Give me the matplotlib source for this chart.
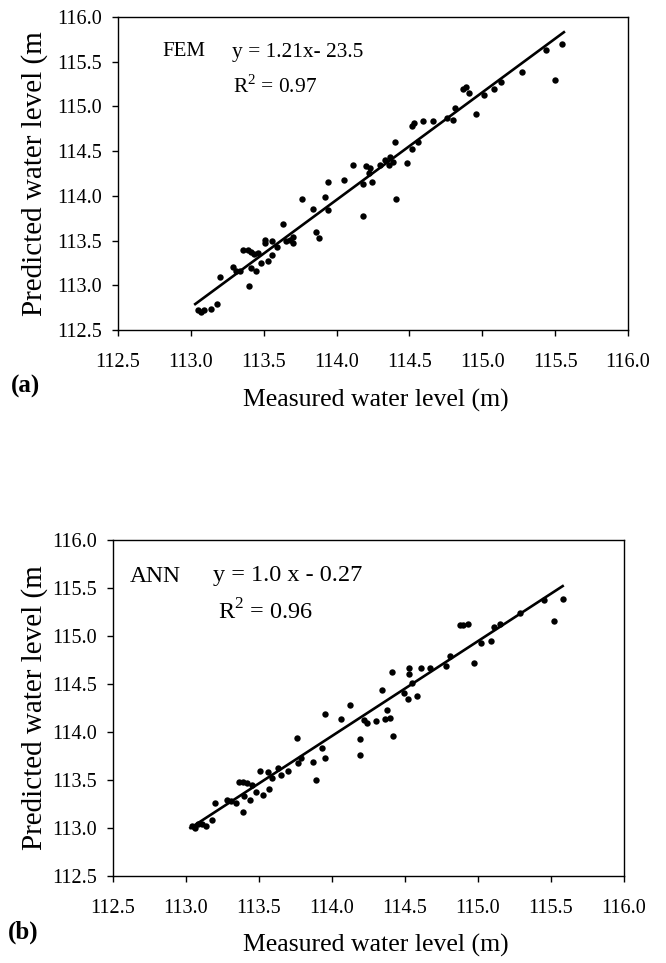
import matplotlib
matplotlib.use("Agg")
import matplotlib.pyplot as plt

plt.rcParams['font.family'] = ['Liberation Serif', 'DejaVu Serif']
plt.rcParams['mathtext.fontset'] = 'custom'
plt.rcParams['mathtext.rm'] = 'Liberation Serif'

# ---- Panel (a): FEM ----
fem_measured = [113.05, 113.07, 113.09, 113.14, 113.18, 113.20, 113.29, 113.31, 113.34, 113.36,
                113.39, 113.41, 113.43, 113.46, 113.40, 113.41, 113.45, 113.48, 113.53, 113.51,
                113.56, 113.56, 113.51, 113.59, 113.63, 113.65, 113.68, 113.70, 113.70, 113.76,
                113.84, 113.86, 113.88, 113.92, 113.94, 113.94, 114.05, 114.11, 114.18, 114.18,
                114.20, 114.23, 114.24, 114.22, 114.30, 114.33, 114.36, 114.37, 114.39, 114.40,
                114.41, 114.48, 114.52, 114.52, 114.53, 114.56, 114.59, 114.66, 114.76, 114.80,
                114.81, 114.87, 114.89, 114.91, 114.96, 115.01, 115.08, 115.13, 115.27, 115.44,
                115.50, 115.55]
fem_predicted = [112.72, 112.70, 112.72, 112.73, 112.79, 113.09, 113.20, 113.16, 113.16, 113.40,
                 113.39, 113.37, 113.35, 113.36, 112.99, 113.19, 113.16, 113.25, 113.27, 113.51,
                 113.49, 113.34, 113.47, 113.43, 113.69, 113.49, 113.51, 113.47, 113.54, 113.96,
                 113.85, 113.60, 113.53, 113.99, 114.16, 113.84, 114.18, 114.35, 113.78, 114.13,
                 114.33, 114.31, 114.16, 114.25, 114.35, 114.40, 114.35, 114.43, 114.38, 114.60,
                 113.96, 114.37, 114.52, 114.78, 114.81, 114.60, 114.84, 114.84, 114.87, 114.85,
                 114.98, 115.19, 115.22, 115.15, 114.92, 115.13, 115.19, 115.27, 115.39, 115.63,
                 115.30, 115.70]
fem_fit_x = [113.03, 115.56]
fem_fit_y = [112.79, 115.83]

# ---- Panel (b): ANN ----
ann_measured = [113.04, 113.06, 113.08, 113.11, 113.14, 113.18, 113.20, 113.28, 113.31, 113.34,
                113.36, 113.39, 113.42, 113.45, 113.48, 113.39, 113.40, 113.44, 113.53, 113.51,
                113.56, 113.57, 113.59, 113.63, 113.65, 113.70, 113.76, 113.77, 113.79, 113.87,
                113.89, 113.93, 113.95, 113.95, 114.06, 114.12, 114.19, 114.19, 114.22, 114.24,
                114.30, 114.34, 114.36, 114.38, 114.40, 114.41, 114.42, 114.49, 114.52, 114.53,
                114.53, 114.55, 114.58, 114.61, 114.67, 114.78, 114.81, 114.88, 114.90, 114.93,
                114.97, 115.02, 115.09, 115.11, 115.15, 115.29, 115.45, 115.52, 115.58]
ann_predicted = [113.02, 113.00, 113.04, 113.04, 113.02, 113.08, 113.26, 113.29, 113.28, 113.26,
                 113.48, 113.48, 113.47, 113.45, 113.38, 113.17, 113.33, 113.29, 113.34, 113.59,
                 113.58, 113.41, 113.52, 113.62, 113.55, 113.59, 113.94, 113.68, 113.73, 113.69,
                 113.50, 113.83, 113.73, 114.19, 114.14, 114.28, 113.93, 113.76, 114.13, 114.09,
                 114.11, 114.44, 114.14, 114.23, 114.15, 114.62, 113.96, 114.41, 114.34, 114.60,
                 114.67, 114.51, 114.38, 114.67, 114.67, 114.69, 114.79, 115.11, 115.11, 115.13,
                 114.72, 114.93, 114.95, 115.09, 115.13, 115.24, 115.37, 115.16, 115.39]
ann_fit_x = [113.03, 115.58]
ann_fit_y = [113.00, 115.52]

ticks = [112.5, 113.0, 113.5, 114.0, 114.5, 115.0, 115.5, 116.0]
tick_labels = ["112.5", "113.0", "113.5", "114.0", "114.5", "115.0", "115.5", "116.0"]

W, H = 666, 963
fig = plt.figure(figsize=(W/100, H/100), dpi=100)
# axes boxes in pixels: left, top, right, bottom
box_a = (118, 17, 628, 330)
box_b = (113, 540, 624, 876)

def make_axes(box):
    l, t, r, b = box
    return fig.add_axes([l/W, 1-b/H, (r-l)/W, (b-t)/H])

ax_a = make_axes(box_a)
ax_b = make_axes(box_b)

def style(ax, box, xlabel_baseline_px):
    l, t, r, b = box
    ax.set_xlim(112.5, 116.0)
    ax.set_ylim(112.5, 116.0)
    ax.set_xticks(ticks)
    ax.set_xticklabels(tick_labels)
    ax.set_yticks(ticks)
    ax.set_yticklabels(tick_labels)
    ax.tick_params(direction='out', length=4.5, width=1, labelsize=14.5, colors='black')
    ax.tick_params(axis='x', pad=12)
    ax.tick_params(axis='y', pad=7)
    for s in ax.spines.values():
        s.set_linewidth(1.0)
        s.set_color('black')
    ax.set_xlabel("Measured water level (m)", fontsize=18.5, va='baseline', ha='center')
    ax.xaxis.set_label_coords((376 - l)/(r - l), -(xlabel_baseline_px - b)/(b - t))
    ax.set_ylabel("Predicted water level (m", fontsize=21, va='center', ha='center')
    ax.yaxis.set_label_coords((35 - l)/(r - l), 0.5)

for ax, mx, py, fx, fy in [(ax_a, fem_measured, fem_predicted, fem_fit_x, fem_fit_y),
                           (ax_b, ann_measured, ann_predicted, ann_fit_x, ann_fit_y)]:
    ax.plot(mx, py, 'o', color='black', markersize=4.6, markeredgewidth=0)
    ax.plot(fx, fy, '-', color='black', linewidth=1.9)

style(ax_a, box_a, 407)
style(ax_b, box_b, 952)

def ax_pt(box, x_px, y_px):
    l, t, r, b = box
    return (x_px - l)/(r - l), 1 - (y_px - t)/(b - t)

for txt, xp, yp, fs, ax, box in [
        ("FEM", 162, 52, 15, ax_a, box_a),
        ("y = 1.21x- 23.5", 232, 52, 15.4, ax_a, box_a),
        (r"R$^2$ = 0.97", 233, 87, 15.4, ax_a, box_a),
        ("ANN", 130, 576, 17, ax_b, box_b),
        ("y = 1.0 x - 0.27", 213, 576, 17.5, ax_b, box_b),
        (r"R$^2$ = 0.96", 218, 612, 17.5, ax_b, box_b)]:
    px, py_ = ax_pt(box, xp, yp)
    ax.text(px, py_, txt, transform=ax.transAxes, fontsize=fs, va='center', ha='left')

fig.text(11/W, 1-386/H, "(a)", fontsize=18, fontweight='bold', va='center', ha='left')
fig.text(8/W, 1-932/H, "(b)", fontsize=18, fontweight='bold', va='center', ha='left')

fig.savefig("out.png", dpi=100)
